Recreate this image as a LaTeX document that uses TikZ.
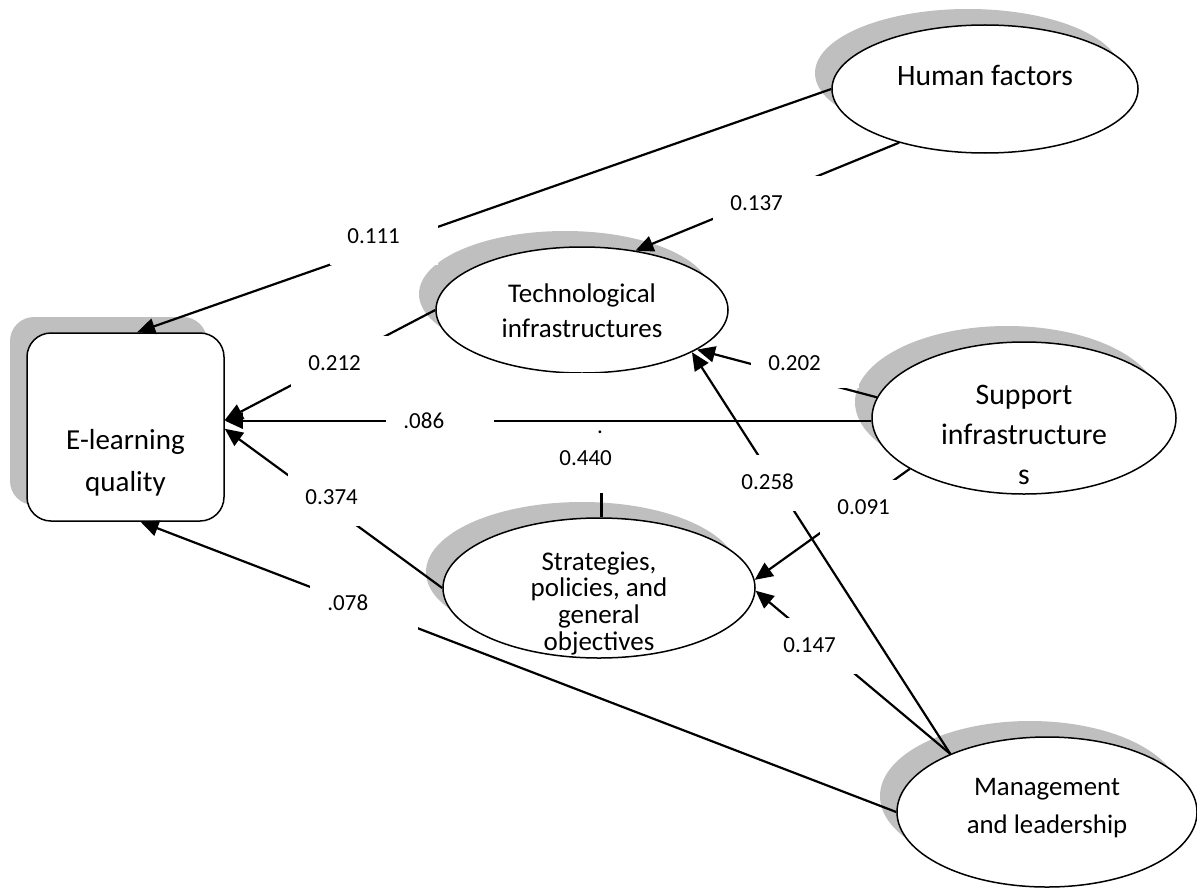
\documentclass[tikz,border=0pt]{standalone}
\usepackage{fontspec}
\setmainfont{Carlito}
\usetikzlibrary{positioning, arrows.meta, shapes.geometric, shadows}
\definecolor{Shade}{HTML}{BFBFBF}
\newcommand{\ntext}[2]{\raisebox{#1}[0pt][0pt]{\begin{tabular}{@{}c@{}}#2\end{tabular}}}
\tikzset{
    shadowed/.style={drop shadow={shadow xshift=-8.5pt, shadow yshift=8pt, fill=Shade, opacity=1}},
    factor/.style={ellipse, draw=black, line width=0.75pt, fill=white, inner sep=0pt, shadowed},
    outcome/.style={rectangle, rounded corners=12pt, draw=black, line width=0.75pt, fill=white, inner sep=0pt, minimum width=98.5pt, minimum height=94pt, shadowed, font=\fontsize{14.5}{21}\selectfont},
    effect/.style={-{Triangle[length=9pt, width=8pt]}, line width=1.1pt},
    coef/.style={fill=white, anchor=north west, inner xsep=8.5pt, inner ysep=0pt, text width=37pt, align=left, font=\fontsize{11.5}{14}\selectfont, text height=17pt, text depth=11pt},
}
\begin{document}
\begin{tikzpicture}[x=0.5pt, y=-0.5pt]
    \useasboundingbox (0,0) rectangle (1197,888);
    % constructs
    \node[outcome] (elq) at (125.5,427) {\ntext{-21pt}{E-learning\\quality}};
    \node[factor, minimum width=153pt, minimum height=64pt, font=\fontsize{14.8}{16}\selectfont] (hf) at (985,89) {\ntext{1.3pt}{Human factors}};
    \node[factor, minimum width=146pt, minimum height=63pt, font=\fontsize{13.5}{17.5}\selectfont] (tech) at (582,310) {\ntext{-5pt}{Technological\\infrastructures}};
    \node[factor, minimum width=152pt, minimum height=76pt, font=\fontsize{14.9}{20}\selectfont] (sup) at (1024,418) {\ntext{-13pt}{Support\\infrastructure\\s}};
    \node[factor, minimum width=156pt, minimum height=70pt, font=\fontsize{13.5}{13.3}\selectfont] (strat) at (599,588) {\ntext{-12pt}{Strategies,\\policies, and\\general\\objectives}};
    \node[factor, minimum width=150pt, minimum height=75pt, font=\fontsize{13.4}{19}\selectfont] (mgmt) at (1047,812) {\ntext{-0.85pt}{Management\\and leadership}};

    % paths with their coefficients
    \draw[effect] (hf.west) -- (elq.83);
    \node[coef] (c111) at (330,209) {0.111};
    \draw[effect] (hf.212) -- (tech.48);
    \node[coef] (c137) at (713,176) {0.137};
    \draw[effect] (tech.west) -- (elq.4);
    \node[coef] (c212) at (291,336) {0.212};
    \draw[effect] (strat.88) -- (strat.88 |- tech.south);
    \node[coef, text height=46pt, text depth=14pt] (c440) at (542,373) {0.440};
    \node[font=\fontsize{11.5}{14}\selectfont, anchor=base] (dot) at (600,433) {.};
    \draw[effect] (sup.181) -- (sup.181 -| elq.east);
    \node[coef] (c086) at (386,394) {.086};
    \draw[effect] (strat.west) -- (elq.-1);
    \node[coef] (c374) at (288,470) {0.374};
    \draw[effect] (mgmt.west) -- (elq.-81);
    \node[coef] (c078) at (310,576) {.078};
    \draw[effect] (sup.172) -- (tech.-19);
    \node[coef, text depth=9pt] (c202) at (751,336) {0.202};
    \draw[effect] (sup.204) -- (strat.3);
    \node[coef] (c091) at (820,480) {0.091};
    \draw[effect] (mgmt.149) -- (strat.-1);
    \node[coef] (c147) at (766,618) {0.147};
    \draw[effect] (mgmt.149) -- (tech.-21);
    \node[coef] (c258) at (724,455) {0.258};
\end{tikzpicture}
\end{document}
